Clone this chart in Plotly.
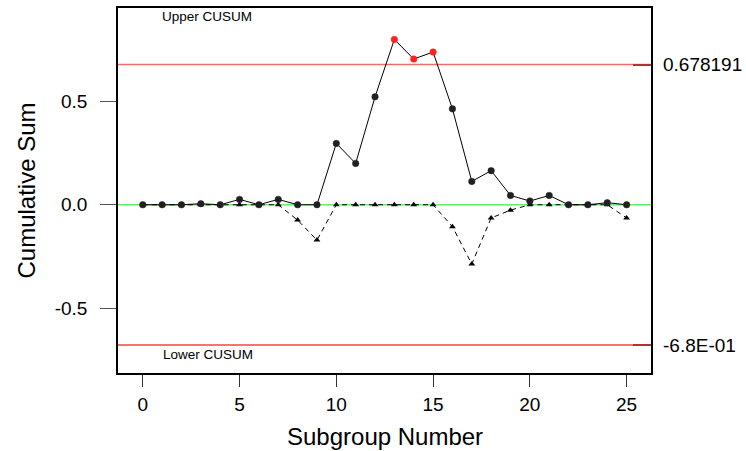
import plotly.graph_objects as go

# ---- data ----
subgroups = list(range(0, 26))
upper_cusum = [0, 0, 0, 0.005, 0, 0.026, 0, 0.026, 0, 0,
               0.297, 0.200, 0.522, 0.800, 0.705, 0.739, 0.464, 0.113,
               0.165, 0.045, 0.018, 0.045, 0, 0, 0.010, 0]
lower_cusum = [0, 0, 0, 0, 0, 0, 0, 0, -0.074, -0.171,
               0, 0, 0, 0, 0, 0, -0.106, -0.287,
               -0.064, -0.026, 0, 0, 0, 0, 0, -0.064]
ucl = 0.678191
lcl = -0.678191
center = 0.0
ucl_label = "0.678191"
lcl_label = "-6.8E-01"
x_ticks = [0, 5, 10, 15, 20, 25]
y_ticks = [-0.5, 0.0, 0.5]
y_tick_text = ["-0.5", "0.0", "0.5"]

FONT = "Liberation Sans, Arial, sans-serif"

upper_colors = ["#ff2020" if v > ucl else "#202020" for v in upper_cusum]

fig = go.Figure()

fig.add_trace(go.Scatter(
    x=subgroups, y=lower_cusum, mode="lines+markers",
    line=dict(color="black", width=1, dash="5px,4px"),
    marker=dict(symbol="triangle-up", size=6, color="black"),
    showlegend=False, hoverinfo="skip"))

fig.add_trace(go.Scatter(
    x=subgroups, y=upper_cusum, mode="lines+markers",
    line=dict(color="black", width=1),
    marker=dict(symbol="circle", size=6.5, color=upper_colors,
                line=dict(color=upper_colors, width=0.5)),
    showlegend=False, hoverinfo="skip"))

# invisible trace for the right axis
fig.add_trace(go.Scatter(x=[subgroups[0]], y=[center], yaxis="y2",
                         mode="markers", marker=dict(opacity=0),
                         showlegend=False, hoverinfo="skip"))

# control and centre lines
for yv, col in [(ucl, "#f26b6b"), (lcl, "#f04545"), (center, "#66ee66")]:
    fig.add_shape(type="line", xref="paper", x0=0, x1=1, yref="y", y0=yv, y1=yv,
                  line=dict(color=col, width=1.5), layer="below")

fig.add_annotation(text="Upper CUSUM", xref="paper", yref="paper", x=0.167, y=0.978,
                   xanchor="center", yanchor="middle",
                   showarrow=False, font=dict(family=FONT, size=13.5, color="black"))
fig.add_annotation(text="Lower CUSUM", xref="paper", yref="paper", x=0.169, y=0.052,
                   xanchor="center", yanchor="middle",
                   showarrow=False, font=dict(family=FONT, size=13.5, color="black"))

# axis titles as annotations (fixed positions)
fig.add_annotation(text="Subgroup Number", xref="paper", yref="paper", x=0.5, y=-0.173,
                   xanchor="center", yanchor="middle", showarrow=False,
                   font=dict(family=FONT, size=24, color="black"))
fig.add_annotation(text="Cumulative Sum", xref="paper", yref="paper", x=-0.1726, y=0.5,
                   xanchor="center", yanchor="middle", textangle=-90, showarrow=False,
                   font=dict(family=FONT, size=24, color="black"))

yr = [-0.814, 0.952]
fig.update_layout(
    width=746, height=451,
    margin=dict(l=118, r=95, t=8, b=78, autoexpand=False),
    paper_bgcolor="white", plot_bgcolor="white",
    font=dict(family=FONT, color="black"),
    xaxis=dict(range=[-1.28, 26.26], tickvals=x_ticks, ticks="outside", ticklen=12,
               tickcolor="#333", showgrid=False, zeroline=False,
               showline=True, linecolor="black", linewidth=1.5, mirror=True,
               ticklabelstandoff=1, automargin=False,
               tickfont=dict(size=19)),
    yaxis=dict(range=yr, tickvals=y_ticks, ticktext=y_tick_text, ticks="outside",
               ticklen=16, tickcolor="#555", showgrid=False, zeroline=False,
               showline=True, linecolor="black", linewidth=1.5, mirror=True,
               ticklabelstandoff=9, automargin=False,
               tickfont=dict(size=19)),
    yaxis2=dict(range=yr, overlaying="y", side="right", tickvals=[ucl, lcl],
                ticktext=[ucl_label, lcl_label], ticks="inside", ticklen=18,
                tickcolor="#b03333", tickwidth=1.5, showgrid=False, zeroline=False,
                showline=False, ticklabelstandoff=11, automargin=False,
                tickfont=dict(size=19)),
)

fig.write_html("out.html", config={"displayModeBar": False},
               post_script="document.body.style.margin='0';")
